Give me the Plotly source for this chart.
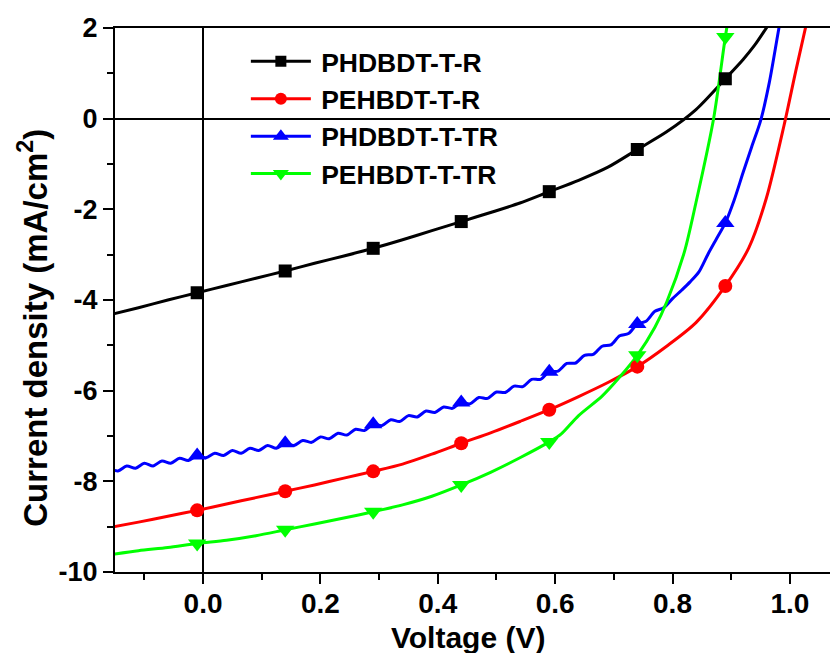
import plotly.graph_objects as go

# ---------------- data ----------------
SERIES_NAMES = ["PHDBDT-T-R", "PEHBDT-T-R", "PHDBDT-T-TR", "PEHBDT-T-TR"]

V_BLACK = [-0.16, -0.11, -0.06, -0.01, 0.04, 0.09, 0.14, 0.19, 0.24, 0.29, 0.34, 0.39,
           0.44, 0.49, 0.54, 0.59, 0.64, 0.69, 0.74, 0.79, 0.84, 0.89, 0.92, 0.94, 0.97]
J_BLACK = [-4.33, -4.17, -4.00, -3.84, -3.68, -3.52, -3.36, -3.19, -3.03, -2.86, -2.67, -2.47,
           -2.27, -2.07, -1.86, -1.61, -1.36, -1.07, -0.68, -0.29, 0.20, 0.88, 1.30, 1.62, 2.20]

V_RED = [-0.16, -0.11, -0.06, -0.01, 0.04, 0.09, 0.14, 0.19, 0.24, 0.29, 0.34, 0.39,
         0.44, 0.49, 0.54, 0.59, 0.64, 0.69, 0.74, 0.79, 0.84, 0.89, 0.93, 0.96, 0.99, 1.01, 1.03]
J_RED = [-9.02, -8.90, -8.77, -8.64, -8.50, -8.36, -8.22, -8.08, -7.93, -7.78, -7.62, -7.40,
         -7.16, -6.93, -6.68, -6.42, -6.13, -5.82, -5.47, -5.02, -4.50, -3.69, -2.85, -1.75,
         -0.15, 1.05, 2.20]

V_BLUE = [-0.160, -0.145, -0.130, -0.115, -0.100, -0.085, -0.070, -0.055, -0.040, -0.025,
          -0.010, 0.005, 0.020, 0.035, 0.050, 0.065, 0.080, 0.095, 0.110, 0.125,
          0.140, 0.155, 0.170, 0.185, 0.200, 0.215, 0.230, 0.245, 0.260, 0.275,
          0.290, 0.305, 0.320, 0.335, 0.350, 0.365, 0.380, 0.395, 0.410, 0.425,
          0.440, 0.455, 0.470, 0.485, 0.500, 0.515, 0.530, 0.545, 0.560, 0.575,
          0.590, 0.605, 0.620, 0.635, 0.650, 0.665, 0.680, 0.695, 0.710, 0.725,
          0.740, 0.755, 0.770, 0.785, 0.800, 0.815, 0.830, 0.845, 0.860, 0.875,
          0.890, 0.905, 0.920, 0.935, 0.950, 0.965, 0.980, 0.995]
J_BLUE = [-7.72, -7.77, -7.66, -7.71, -7.60, -7.66, -7.55, -7.60, -7.49, -7.54,
          -7.43, -7.48, -7.38, -7.43, -7.32, -7.38, -7.27, -7.32, -7.21, -7.27,
          -7.16, -7.21, -7.10, -7.14, -7.02, -7.06, -6.94, -6.98, -6.85, -6.88,
          -6.74, -6.77, -6.64, -6.68, -6.55, -6.58, -6.45, -6.48, -6.36, -6.39,
          -6.26, -6.29, -6.15, -6.17, -6.03, -6.04, -5.90, -5.91, -5.75, -5.75,
          -5.58, -5.57, -5.40, -5.39, -5.22, -5.20, -5.02, -4.99, -4.79, -4.74,
          -4.53, -4.47, -4.25, -4.17, -3.97, -3.79, -3.60, -3.38, -3.00, -2.65,
          -2.30, -1.80, -1.20, -0.62, -0.05, 0.80, 1.90, 3.00]

V_GREEN = [-0.16, -0.11, -0.06, -0.01, 0.04, 0.09, 0.14, 0.19, 0.24, 0.29, 0.34, 0.39,
           0.44, 0.49, 0.54, 0.59, 0.61, 0.64, 0.68, 0.71, 0.74, 0.77, 0.79, 0.82, 0.84,
           0.87, 0.89, 0.90]
J_GREEN = [-9.62, -9.53, -9.46, -9.37, -9.30, -9.20, -9.07, -8.94, -8.81, -8.67, -8.52, -8.33,
           -8.08, -7.80, -7.48, -7.13, -6.96, -6.55, -6.12, -5.70, -5.22, -4.60, -4.05, -2.95,
           -1.85, 0.00, 1.80, 2.60]

MARKER_V = [-0.01, 0.14, 0.29, 0.44, 0.59, 0.74, 0.89]

X_TICKS = [0.0, 0.2, 0.4, 0.6, 0.8, 1.0]
X_TICK_LABELS = ["0.0", "0.2", "0.4", "0.6", "0.8", "1.0"]
X_MINOR = [-0.1, 0.1, 0.3, 0.5, 0.7, 0.9]
Y_TICKS = [2, 0, -2, -4, -6, -8, -10]
Y_TICK_LABELS = ["2", "0", "-2", "-4", "-6", "-8", "-10"]
Y_MINOR = [1, -1, -3, -5, -7, -9]

X_TITLE = "Voltage (V)"
Y_TITLE = "Current density (mA/cm<sup>2</sup>)"

# ---------------- styling ----------------
COLORS = ["#000000", "#ff0000", "#0000ff", "#00ff00"]
SYMBOLS = ["square", "circle", "triangle-up", "triangle-down"]
MSIZES = [13, 14, 16, 16]
FONT = "Liberation Sans, Arial, sans-serif"

data = [(V_BLACK, J_BLACK), (V_RED, J_RED), (V_BLUE, J_BLUE), (V_GREEN, J_GREEN)]

fig = go.Figure()
for (vv, jj), name, col in zip(data, SERIES_NAMES, COLORS):
    fig.add_trace(go.Scatter(x=vv, y=jj, mode="lines",
                             line=dict(color=col, width=3, shape="spline", smoothing=0.8),
                             showlegend=False, hoverinfo="skip", cliponaxis=True))

for (vv, jj), name, col, sym, ms in zip(data, SERIES_NAMES, COLORS, SYMBOLS, MSIZES):
    lookup = {round(v, 3): j for v, j in zip(vv, jj)}
    mx = [v for v in MARKER_V if round(v, 3) in lookup]
    my = [lookup[round(v, 3)] for v in mx]
    fig.add_trace(go.Scatter(x=mx, y=my, mode="markers", showlegend=False,
                             marker=dict(color=col, symbol=sym, size=ms, line=dict(width=0)),
                             cliponaxis=True))

for name, col, sym, ms in zip(SERIES_NAMES, COLORS, SYMBOLS, MSIZES):
    fig.add_trace(go.Scatter(x=[None], y=[None], mode="lines+markers", name="\u2009" + name,
                             line=dict(color=col, width=3),
                             marker=dict(color=col, symbol=sym, size=ms - 2)))

# the page body has an 8px margin, so the figure is sized to fit the window
fig.update_layout(
    width=830, height=645,
    margin=dict(l=107, r=0, t=20, b=81, autoexpand=False),
    plot_bgcolor="white", paper_bgcolor="white",
    font=dict(family=FONT, color="black", size=26, weight="bold"),
    showlegend=True,
    legend=dict(x=0.181, y=0.9825, xanchor="left", yanchor="top",
                bgcolor="rgba(0,0,0,0)", borderwidth=0,
                font=dict(family=FONT, size=26.5, color="black", weight="bold"),
                itemwidth=60, tracegroupgap=0),
    xaxis=dict(
        range=[-0.15, 1.082], showgrid=False, automargin=False,
        showline=True, linecolor="black", linewidth=2, mirror=True,
        ticks="outside", ticklen=10, tickwidth=2, tickcolor="black",
        tickvals=X_TICKS, ticktext=X_TICK_LABELS, ticklabelstandoff=-5,
        tickfont=dict(family=FONT, size=28, color="black", weight="bold"),
        minor=dict(tickvals=X_MINOR, ticks="outside", ticklen=6,
                   tickwidth=2, tickcolor="black"),
        zeroline=True, zerolinecolor="black", zerolinewidth=2,
    ),
    yaxis=dict(
        range=[-10, 2], showgrid=False, automargin=False,
        showline=True, linecolor="black", linewidth=2, mirror=False,
        ticks="outside", ticklen=10, tickwidth=2, tickcolor="black",
        tickvals=Y_TICKS, ticktext=Y_TICK_LABELS,
        tickfont=dict(family=FONT, size=27, color="black", weight="bold"),
        minor=dict(tickvals=Y_MINOR, ticks="outside", ticklen=6,
                   tickwidth=2, tickcolor="black"),
        zeroline=True, zerolinecolor="black", zerolinewidth=2,
    ),
    annotations=[
        dict(text=X_TITLE, xref="paper", yref="paper", x=0.488, y=-0.1195,
             xanchor="center", yanchor="middle", showarrow=False,
             font=dict(family=FONT, size=30, color="black", weight="bold")),
        dict(text=Y_TITLE, xref="paper", yref="paper", x=-0.1134, y=0.449,
             xanchor="center", yanchor="middle", showarrow=False, textangle=-90,
             font=dict(family=FONT, size=33, color="black", weight="bold")),
    ],
)

fig.write_html("out.html")
